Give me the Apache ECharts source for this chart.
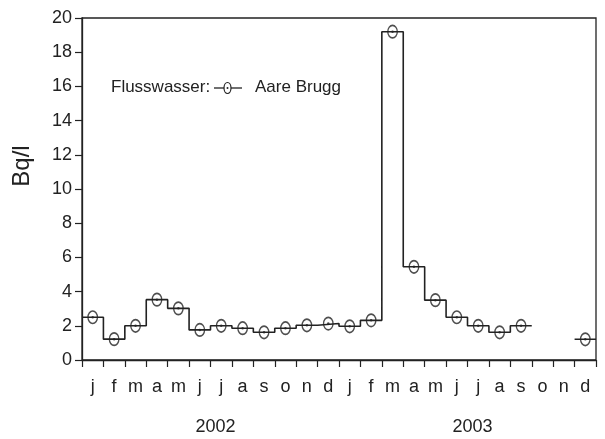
<!DOCTYPE html>
<html>
<head>
<meta charset="utf-8">
<script src="https://cdn.jsdelivr.net/npm/echarts@6/dist/echarts.min.js"></script>
<style>
html,body{margin:0;padding:0;background:#fff;}
#c{width:605px;height:439px;}
</style>
</head>
<body>
<div id="c"></div>
<script>
var monthLabels = ['j','f','m','a','m','j','j','a','s','o','n','d','j','f','m','a','m','j','j','a','s','o','n','d'];
var yearLabels = ['2002','2003'];
var values2002 = [2.5, 1.22, 2.0, 3.53, 3.02, 1.76, 2.0, 1.86, 1.62, 1.86, 2.03, 2.13];
var values2003 = [1.97, 2.32, 19.2, 5.45, 3.5, 2.5, 2.0, 1.62, 2.0, null, null, 1.21];
var seriesName = 'Aare Brugg';
var legendPrefix = 'Flusswasser:';
var yTitle = 'Bq/l';

var values = values2002.concat(values2003);
var stepData = [];
var markerData = [];
values.forEach(function (v, i) {
  if (v === null) {
    stepData.push([i + 0.5, null]);
  } else {
    stepData.push([i, v]);
    stepData.push([i + 1, v]);
    markerData.push([i + 0.5, v]);
  }
});

var ink = '#222';
var font = '"Liberation Sans", Arial, Helvetica, sans-serif';
var chart = echarts.init(document.getElementById('c'), null, {renderer: 'canvas'});
chart.setOption({
  animation: false,
  backgroundColor: '#fff',
  grid: {left: 82, right: 9, top: 18, bottom: 79, show: true, borderColor: ink, borderWidth: 1.3, backgroundColor: 'transparent'},
  xAxis: [
    {type: 'value', min: 0, max: 24, interval: 1,
     axisLine: {lineStyle: {color: ink, width: 1.3}},
     axisTick: {show: true, inside: false, length: 7, lineStyle: {color: ink, width: 1.2}},
     axisLabel: {show: false}, splitLine: {show: false}},
    {type: 'category', data: monthLabels, position: 'bottom', boundaryGap: true,
     axisLine: {show: false}, axisTick: {show: false}, splitLine: {show: false},
     axisLabel: {interval: 0, margin: 18, color: '#222', fontSize: 18, fontFamily: font}},
    {type: 'category', data: yearLabels, position: 'bottom', offset: 50, boundaryGap: true,
     axisLine: {show: false}, axisTick: {show: false}, splitLine: {show: false},
     axisLabel: {interval: 0, margin: 8, color: '#222', fontSize: 18, fontFamily: font, padding: [0, 0, 0, 10]}}
  ],
  yAxis: {
    type: 'value', min: 0, max: 20, interval: 2,
    name: yTitle, nameLocation: 'middle', nameGap: 48,
    nameTextStyle: {fontSize: 24, color: '#222', fontFamily: font, padding: [0, 0, 0, 46]},
    axisLine: {show: true, lineStyle: {color: ink, width: 1.3}},
    axisTick: {show: true, inside: false, length: 7, lineStyle: {color: ink, width: 1.2}},
    axisLabel: {margin: 10, color: '#222', fontSize: 18, fontFamily: font},
    splitLine: {show: false}
  },
  series: [
    {name: seriesName, type: 'line', xAxisIndex: 0, data: stepData, showSymbol: false, symbol: 'none',
     connectNulls: false, lineStyle: {color: ink, width: 1.6}, silent: true},
    {name: seriesName + ' marker', type: 'scatter', xAxisIndex: 0, data: markerData,
     symbol: 'circle', symbolSize: [9.5, 12.5],
     itemStyle: {color: '#fff', borderColor: ink, borderWidth: 1.5}, silent: true},
    {name: seriesName + ' dot', type: 'scatter', xAxisIndex: 0, data: markerData,
     symbol: 'circle', symbolSize: 2.5, itemStyle: {color: ink}, silent: true}
  ],
  graphic: [
    {type: 'text', left: 111, top: 79, style: {text: legendPrefix, fontSize: 17, fontFamily: font, fill: '#222'}},
    {type: 'line', shape: {x1: 214, y1: 88, x2: 242, y2: 88}, style: {stroke: ink, lineWidth: 1.3}},
    {type: 'ellipse', shape: {cx: 227.5, cy: 88, rx: 3.5, ry: 5.5}, style: {fill: '#fff', stroke: ink, lineWidth: 1.2}},
    {type: 'circle', shape: {cx: 227.5, cy: 88, r: 1}, style: {fill: ink}},
    {type: 'text', left: 255, top: 79, style: {text: seriesName, fontSize: 17, fontFamily: font, fill: '#222'}}
  ]
});
</script>
</body>
</html>
